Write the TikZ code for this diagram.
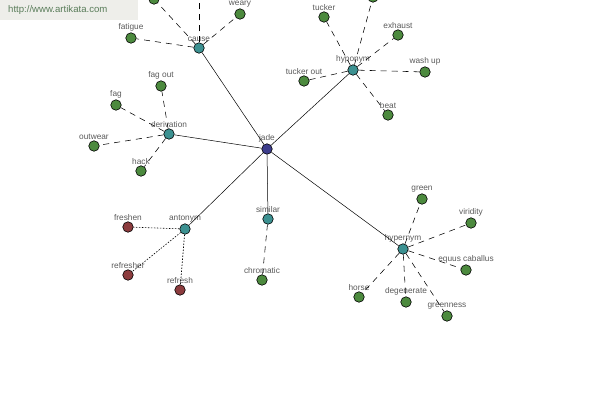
\documentclass[tikz,border=0pt]{standalone}
\usepackage{fontspec}
\setmainfont{Liberation Sans}
\usetikzlibrary{positioning}
\definecolor{leafgreen}{RGB}{76,138,62}
\definecolor{hubteal}{RGB}{60,145,145}
\definecolor{rootblue}{RGB}{60,60,140}
\definecolor{antired}{RGB}{140,60,62}
\definecolor{labelgray}{RGB}{90,90,90}
\definecolor{markgray}{RGB}{238,238,234}
\definecolor{marktext}{RGB}{90,125,90}

\begin{document}
\begin{tikzpicture}[x=1pt,y=-1pt,
  dot/.style={circle,draw=black,line width=0.6pt,inner sep=0pt,minimum size=10.5pt},
  leaf/.style={dot,fill=leafgreen},
  antileaf/.style={dot,fill=antired},
  hub/.style={dot,fill=hubteal},
  word/.style={font=\fontsize{8.3}{9}\selectfont,text=labelgray,inner sep=0.6pt},
  link/.style={black,line width=0.5pt},
  rel/.style={black,line width=0.55pt,dash pattern=on 6pt off 5pt},
  antirel/.style={black,line width=0.6pt,dash pattern=on 1.5pt off 1.5pt}]
\useasboundingbox (0,0) rectangle (600,400);
\clip (0,0) rectangle (600,400);

% Watermark
\fill[markgray] (0,0) rectangle (138,20);
\node[anchor=west,inner sep=0pt,text=marktext,font=\fontsize{9.6}{10}\selectfont] (mark) at (8,10) {http://www.artikata.com};

% Root
\node[dot,fill=rootblue,label={[word]above:jade}] (jade) at (267,149) {};

% Hubs
\node[hub,label={[word]above:cause}] (cause) at (199,48) {};
\node[hub,label={[word]above:hyponym}] (hyponym) at (353,70) {};
\node[hub,label={[word]above:derivation}] (derivation) at (169,134) {};
\node[hub,label={[word]above:antonym}] (antonym) at (185,229) {};
\node[hub,label={[word]above:similar}] (similar) at (268,219) {};
\node[hub,label={[word]above:hypernym}] (hypernym) at (403,249) {};

\foreach \h in {cause,hyponym,derivation,antonym,similar,hypernym}
  \draw[link] (jade) -- (\h);

% cause
\node[leaf] (causeup) at (199,-22) {};
\node[leaf] (causeleft) at (154,-1) {};
\node[leaf,label={[word]above:fatigue}] (fatigue) at (131,38) {};
\node[leaf,label={[word]above:weary}] (weary) at (240,14) {};
\foreach \l in {causeup,causeleft,fatigue,weary}
  \draw[rel] (cause) -- (\l);

% hyponym
\node[leaf] (hypoup) at (373,-3) {};
\node[leaf,label={[word]above:tucker}] (tucker) at (324,17) {};
\node[leaf,label={[word]above:exhaust}] (exhaust) at (398,35) {};
\node[leaf,label={[word]above:wash up}] (washup) at (425,72) {};
\node[leaf,label={[word]above:tucker out}] (tuckerout) at (304,81) {};
\node[leaf,label={[word]above:beat}] (beat) at (388,115) {};
\foreach \l in {hypoup,tucker,exhaust,washup,tuckerout,beat}
  \draw[rel] (hyponym) -- (\l);

% derivation
\node[leaf,label={[word]above:fag out}] (fagout) at (161,86) {};
\node[leaf,label={[word]above:fag}] (fag) at (116,105) {};
\node[leaf,label={[word]above:outwear}] (outwear) at (94,146) {};
\node[leaf,label={[word]above:hack}] (hack) at (141,171) {};
\foreach \l in {fagout,fag,outwear,hack}
  \draw[rel] (derivation) -- (\l);

% antonym
\node[antileaf,label={[word]above:freshen}] (freshen) at (128,227) {};
\node[antileaf,label={[word]above:refresher}] (refresher) at (128,275) {};
\node[antileaf,label={[word]above:refresh}] (refresh) at (180,290) {};
\foreach \l in {freshen,refresher,refresh}
  \draw[antirel] (antonym) -- (\l);

% similar
\node[leaf,label={[word]above:chromatic}] (chromatic) at (262,280) {};
\draw[rel] (similar) -- (chromatic);

% hypernym
\node[leaf,label={[word]above:green}] (green) at (422,199) {};
\node[leaf,label={[word]above:viridity}] (viridity) at (471,223) {};
\node[leaf,label={[word]above:equus caballus}] (equus) at (466,270) {};
\node[leaf,label={[word]above:horse}] (horse) at (359,297) {};
\node[leaf,label={[word]above:degenerate}] (degenerate) at (406,302) {};
\node[leaf,label={[word]above:greenness}] (greenness) at (447,316) {};
\foreach \l in {green,viridity,equus,horse,degenerate,greenness}
  \draw[rel] (hypernym) -- (\l);
\end{tikzpicture}
\end{document}
